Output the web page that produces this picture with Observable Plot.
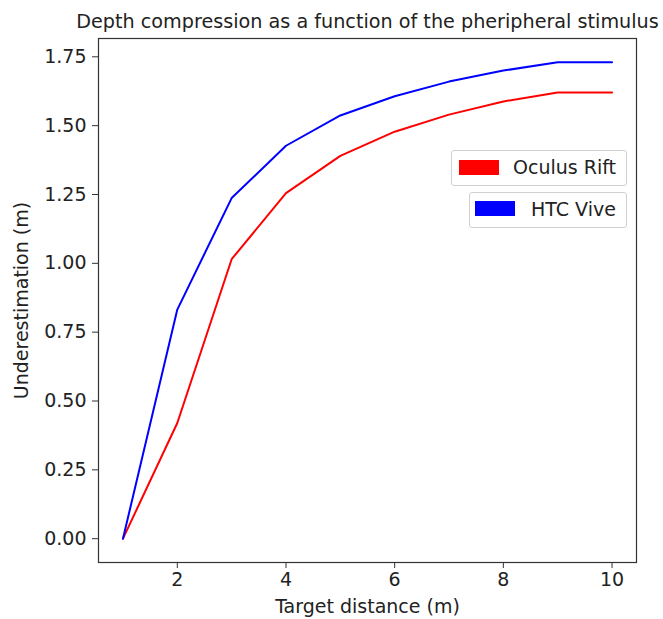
<!DOCTYPE html>
<html>
<head>
<meta charset="utf-8">
<script src="https://cdn.jsdelivr.net/npm/d3@7"></script>
<script src="https://cdn.jsdelivr.net/npm/@observablehq/plot@0.6"></script>
<style>
  html, body { margin: 0; padding: 0; background: #fff; }
  #wrap { position: relative; width: 663px; height: 619px; font-family: "DejaVu Sans", sans-serif; }
  .leg { position: absolute; box-sizing: border-box; border: 1px solid #d0d0d0; border-radius: 3px; background: rgba(255,255,255,0.8); font-size: 19px; color: #222; }
  .leg .sw { position: absolute; }
  .leg .tx { position: absolute; white-space: nowrap; line-height: 1; }
</style>
</head>
<body>
<div id="wrap"></div>
<script>
const titleText = "Depth compression as a function of the pheripheral stimulus";
const xLabel = "Target distance (m)";
const yLabel = "Underestimation (m)";
const distances = [1, 2, 3, 4, 5, 6, 7, 8, 9, 10];
const oculusRift = [0, 0.42, 1.015, 1.255, 1.39, 1.478, 1.54, 1.588, 1.62, 1.62];
const htcVive = [0, 0.832, 1.237, 1.427, 1.537, 1.607, 1.66, 1.70, 1.73, 1.73];
const seriesNames = ["Oculus Rift", "HTC Vive"];
const seriesColors = ["red", "blue"];
const xTicks = [2, 4, 6, 8, 10];
const yTicks = [0, 0.25, 0.5, 0.75, 1.0, 1.25, 1.5, 1.75];

const rows = [];
[oculusRift, htcVive].forEach((vals, s) => {
  vals.forEach((v, i) => rows.push({series: seriesNames[s], x: distances[i], y: v}));
});

const chart = Plot.plot({
  width: 663,
  height: 619,
  marginLeft: 98,
  marginRight: 27,
  marginTop: 38,
  marginBottom: 57,
  style: {fontFamily: "DejaVu Sans, sans-serif", fontSize: "19px", color: "#222", background: "#fff"},
  x: {domain: [0.55, 10.45]},
  y: {domain: [-0.0865, 1.8165]},
  color: {domain: seriesNames, range: seriesColors},
  marks: [
    Plot.line(rows, {x: "x", y: "y", z: "series", stroke: "series", strokeWidth: 2}),
    Plot.frame({stroke: "#333", strokeWidth: 1.2}),
    Plot.axisX({ticks: xTicks, tickSize: 6, tickPadding: 4, stroke: "#333", fontSize: 19, label: xLabel, labelAnchor: "center", labelArrow: "none", labelOffset: 50}),
    Plot.axisY({ticks: yTicks, tickSize: 6, tickPadding: 6, stroke: "#333", fontSize: 19, tickFormat: d => d.toFixed(2), label: yLabel, labelAnchor: "center", labelArrow: "none", labelOffset: 84}),
    Plot.text([titleText], {text: d => d, frameAnchor: "top", lineAnchor: "middle", dy: -17, fontSize: 19.2, fill: "#222"})
  ]
});

const wrap = document.getElementById("wrap");
wrap.appendChild(chart);

const legendBoxes = [
  {left: 451, top: 150, width: 176, height: 36, swL: 7, swT: 9, txL: 61},
  {left: 469, top: 192, width: 158, height: 36, swL: 5, swT: 8, txL: 61}
];
legendBoxes.forEach((b, i) => {
  const d = document.createElement("div");
  d.className = "leg";
  Object.assign(d.style, {left: b.left + "px", top: b.top + "px", width: b.width + "px", height: b.height + "px"});
  const sw = document.createElement("div");
  sw.className = "sw";
  Object.assign(sw.style, {left: b.swL + "px", top: b.swT + "px", width: "40px", height: "15px", background: seriesColors[i]});
  const tx = document.createElement("div");
  tx.className = "tx";
  tx.textContent = seriesNames[i];
  Object.assign(tx.style, {left: b.txL + "px", top: "7px"});
  d.appendChild(sw); d.appendChild(tx);
  wrap.appendChild(d);
});
</script>
</body>
</html>
